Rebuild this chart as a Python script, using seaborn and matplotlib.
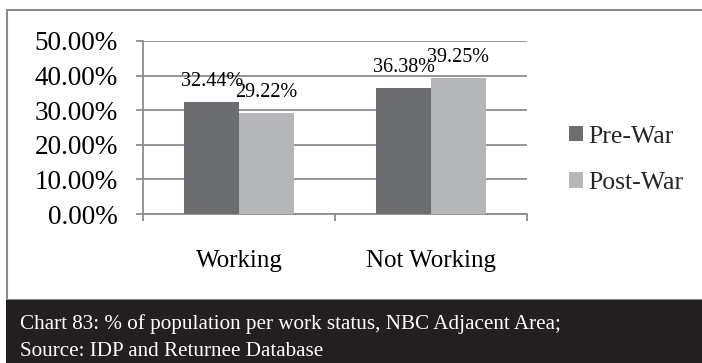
import matplotlib
matplotlib.use("Agg")
import matplotlib.pyplot as plt
import seaborn as sns
import pandas as pd
from matplotlib.patches import Rectangle
from matplotlib.ticker import FixedLocator, PercentFormatter

categories = ["Working", "Not Working"]
series_names = ["Pre-War", "Post-War"]
pre_war = [32.44, 36.38]
post_war = [29.22, 39.25]
y_ticks = [0, 10, 20, 30, 40, 50]
caption_lines = ["Chart 83: % of population per work status, NBC Adjacent Area;",
                 "Source: IDP and Returnee Database"]

df = pd.DataFrame({
    "category": categories * 2,
    "series": [series_names[0]] * 2 + [series_names[1]] * 2,
    "value": pre_war + post_war,
})

sns.set_theme(style="white")
plt.rcParams["font.family"] = ["Liberation Serif", "DejaVu Serif"]

W, H = 702, 363
fig = plt.figure(figsize=(W / 100, H / 100), dpi=100)

def fx(px):
    return px / W

def fy(py):
    return 1 - py / H

# outer box and footer band
fig.patches.append(Rectangle((fx(7), fy(300)), fx(720) - fx(7), fy(10) - fy(300),
                             transform=fig.transFigure, facecolor="white",
                             edgecolor="#8c8c8c", lw=1.5, zorder=-2))
fig.patches.append(Rectangle((fx(6), 0), 1, fy(300), transform=fig.transFigure,
                             facecolor="#231f20", edgecolor="none", zorder=-1))

ax = fig.add_axes([fx(143), fy(214), fx(527) - fx(143), fy(41) - fy(214)])
ax.set_zorder(2)
ax.set_facecolor("none")
palette = {"Pre-War": "#6d6e71", "Post-War": "#b4b6b9"}
sns.barplot(data=df, x="category", y="value", hue="series", order=categories,
            hue_order=series_names, palette=palette, width=0.57, saturation=1,
            ax=ax, legend=True, zorder=3, linewidth=0, edgecolor="none")

ax.set_xlim(-0.5, 1.5)
ax.set_ylim(0, 50)
ax.yaxis.set_major_locator(FixedLocator(y_ticks))
ax.yaxis.set_major_formatter(PercentFormatter(100, decimals=2))
ax.grid(axis="y", color="#8c8c8c", lw=1.3, zorder=0)
ax.set_axisbelow(True)
for s in ["top", "right"]:
    ax.spines[s].set_visible(False)
for s in ["left", "bottom"]:
    ax.spines[s].set_color("#8c8c8c")
    ax.spines[s].set_linewidth(1.3)
ax.set_xlabel("")
ax.set_ylabel("")

ax.tick_params(axis="y", which="major", left=True, length=5, width=1.3,
               color="#8c8c8c", pad=13, labelsize=19.5, labelcolor="black")
ax.tick_params(axis="x", which="major", bottom=False, length=0, pad=26,
               labelsize=18, labelcolor="black")
ax.xaxis.set_minor_locator(FixedLocator([-0.5, 0.5, 1.5]))
ax.tick_params(axis="x", which="minor", bottom=True, length=5, width=1.3,
               color="#8c8c8c")

for cont in ax.containers:
    ax.bar_label(cont, labels=[f"{v:.2f}%" for v in cont.datavalues],
                 padding=8, fontsize=14.5, color="black")

handles, labels = ax.get_legend_handles_labels()
ax.get_legend().remove()
fig.legend(handles, labels, loc="center left",
           bbox_to_anchor=(fx(569), fy(160)), frameon=False, fontsize=18.5,
           handlelength=0.55, handleheight=0.55, handletextpad=0.2,
           labelspacing=0.95, borderpad=0, borderaxespad=0)

fig.text(fx(20), fy(329), caption_lines[0], color="white", fontsize=15.2,
         va="baseline", ha="left")
fig.text(fx(20), fy(356), caption_lines[1], color="white", fontsize=15.2,
         va="baseline", ha="left")

fig.savefig("out.png", dpi=100)
